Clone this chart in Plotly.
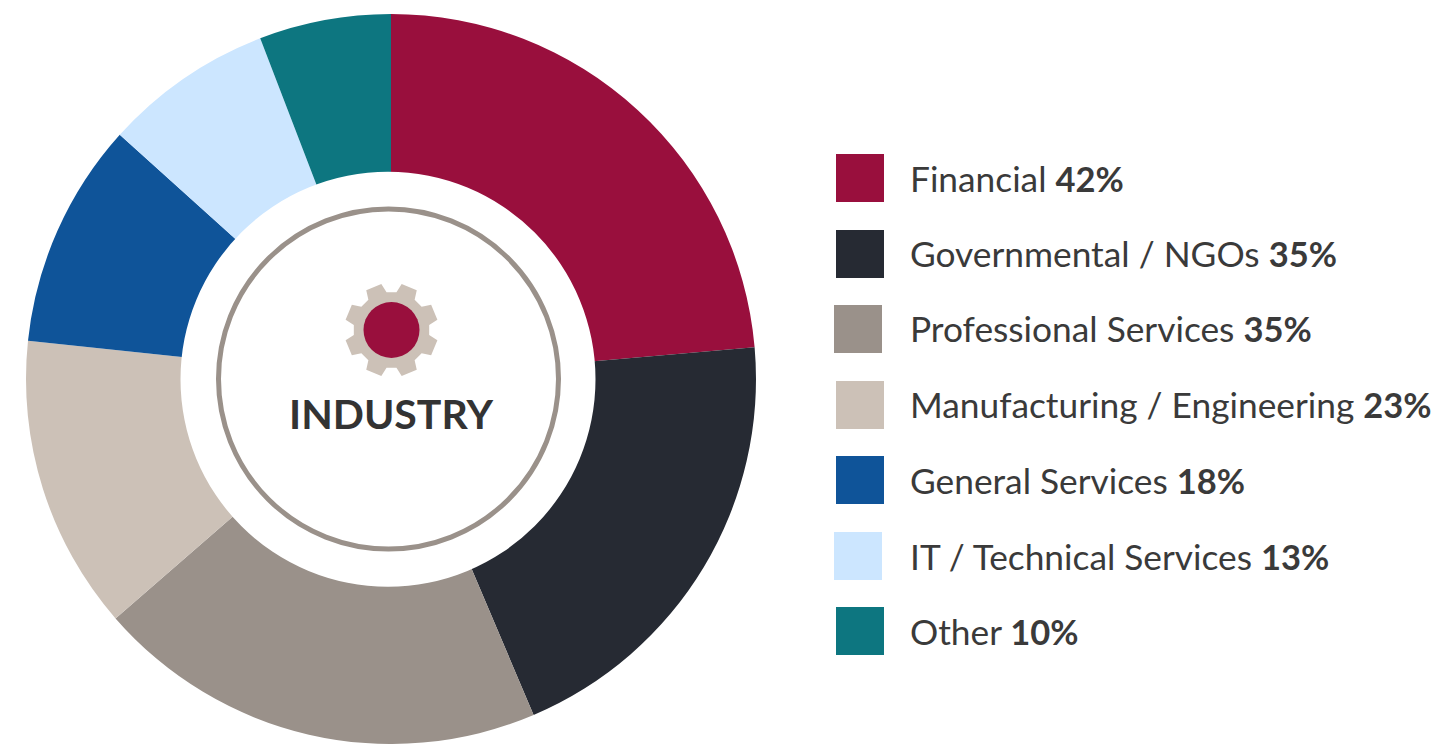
import numpy as np
import plotly.graph_objects as go

categories = ["Financial", "Governmental / NGOs", "Professional Services",
              "Manufacturing / Engineering", "General Services",
              "IT / Technical Services", "Other"]
percent_labels = [42, 35, 35, 23, 18, 13, 10]
# slice sizes as drawn in the picture (degrees of the ring)
slice_degrees = [85, 72, 72, 47, 36, 27, 21]
colors = ["#990F3D", "#262A33", "#9A918A", "#CCC1B7", "#0F5499", "#CCE6FF", "#0D7680"]
center_title = "INDUSTRY"

W, H = 1445, 744
FONT = "Lato"
TEXT = "#3A3A3A"
CX, CY, R = 391, 379, 365
swatch_x = [836, 836, 834, 836, 836, 834, 836]
swatch_y = [154, 230, 305, 381, 456, 532, 607]
SW = 48


def px(x):
    return x / W


def py(y):
    return 1 - y / H


fig = go.Figure(go.Pie(
    labels=categories, values=slice_degrees, sort=False, direction="clockwise", rotation=0,
    hole=0.55, marker=dict(colors=colors, line=dict(width=0)), textinfo="none",
    showlegend=False,
    domain=dict(x=[px(CX - R), px(CX + R)], y=[py(CY + R), py(CY - R)]),
))

shapes = []
annotations = []


def circle(cx, cy, r, **kw):
    return dict(type="circle", xref="paper", yref="paper", x0=px(cx - r), x1=px(cx + r),
                y0=py(cy + r), y1=py(cy - r), **kw)


# white centre of the ring, then the thin outline inside it
shapes.append(circle(388, 379.3, 207.5, fillcolor="white", line=dict(width=0)))
shapes.append(circle(388.5, 379, 170, line=dict(color="#9A918A", width=5), fillcolor="rgba(0,0,0,0)"))

# gear emblem
GX, GY, RO, RI = 391.5, 330, 47, 38
pts = []
for k in range(8):
    a = np.radians(22.5 + 45 * k)
    for da, r in [(-15, RI), (-10, RO), (10, RO), (15, RI)]:
        t = a + np.radians(da)
        pts.append((px(GX + r * np.sin(t)), py(GY - r * np.cos(t))))
path = "M " + " L ".join(f"{x:.5f},{y:.5f}" for x, y in pts) + " Z"
shapes.append(dict(type="path", xref="paper", yref="paper", path=path,
                   fillcolor=colors[3], line=dict(width=0)))
shapes.append(circle(GX, GY, 28, fillcolor=colors[0], line=dict(width=0)))

annotations.append(dict(text=f"<b>{center_title}</b>", x=px(391), y=py(414), xref="paper", yref="paper",
                        xanchor="center", yanchor="middle", showarrow=False,
                        font=dict(family=FONT, size=41, color="#333333")))

for cat, val, col, sx, sy in zip(categories, percent_labels, colors, swatch_x, swatch_y):
    shapes.append(dict(type="rect", xref="paper", yref="paper", x0=px(sx), x1=px(sx + SW),
                       y0=py(sy + SW), y1=py(sy), fillcolor=col, line=dict(width=0)))
    annotations.append(dict(text=f'{cat} <span style="font-size:34.5px"><b>{val}%</b></span>',
                            x=px(908), y=py(sy + SW / 2),
                            xref="paper", yref="paper", xanchor="left", yanchor="middle",
                            showarrow=False, font=dict(family=FONT, size=35.3, color=TEXT)))

fig.update_layout(width=W, height=H, margin=dict(l=0, r=0, t=0, b=0),
                  paper_bgcolor="white", plot_bgcolor="white",
                  shapes=shapes, annotations=annotations)
fig.write_html("out.html", post_script="document.body.style.margin='0';", config={"displayModeBar": False})
